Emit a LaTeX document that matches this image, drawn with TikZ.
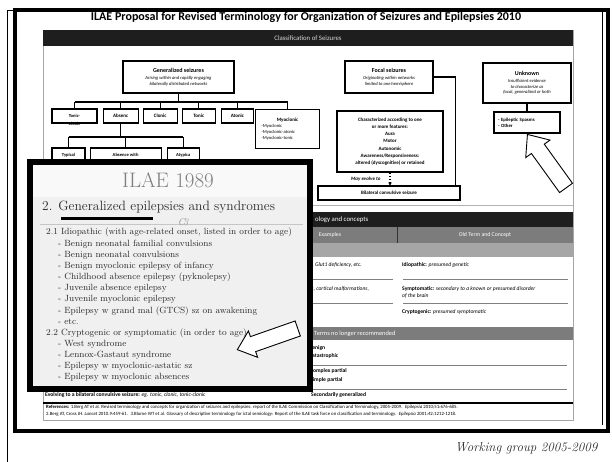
\documentclass[tikz,border=0pt]{standalone}
\usepackage{fontspec}
\setsansfont{Carlito}
\usetikzlibrary{arrows.meta,shapes.arrows,positioning}

\definecolor{bandgray}{HTML}{1E1E1E}
\definecolor{headgray}{HTML}{7C7C7C}
\definecolor{rowgray}{HTML}{A6A6A6}
\definecolor{paper}{HTML}{F0F0F0}
\definecolor{inkgray}{HTML}{2C2C2C}

\newcommand{\fsz}[2]{\fontsize{#1}{#2}\selectfont}

\begin{document}
\begin{tikzpicture}[x=1pt,y=-1pt,
  box/.style={draw,line width=1.1pt,fill=white,inner sep=1pt,align=center,
    font=\sffamily\fsz{5}{6}\bfseries},
  kid/.style={box,minimum height=14pt},
  tree/.style={line width=1.1pt},
  row text/.style={anchor=west,inner sep=0pt,font=\sffamily\fsz{5.6}{7}},
  band text/.style={inner sep=0pt,text=white,font=\sffamily\fsz{6.8}{8}},
  block arrow/.style={single arrow,draw,line width=0.9pt,fill=white,inner sep=0pt,
    single arrow head extend=7pt,single arrow tip angle=80}]

  \useasboundingbox (0,0) rectangle (612,462);
  \fill[white] (0,0) rectangle (612,462);

  % the 2010 slide
  \draw[gray!70,fill=white] (43,30) rectangle (573,420);
  \node[font=\sffamily\bfseries\fsz{12}{14}] (title) at (306,17)
    {ILAE Proposal for Revised Terminology for Organization of Seizures and Epilepsies 2010};
  \fill[bandgray] (43,30) rectangle (573,46);
  \node[band text,text=white!85!black] (classif) at (308,38) {Classification of Seizures};
  \draw[gray!60] (43,205) -- (573,205);

  \node[box,minimum width=111pt,minimum height=32pt,font=\sffamily\fsz{4.6}{5.8}\itshape] (gen) at (178.5,77)
    {{\fsz{6}{7}\bfseries\upshape Generalized seizures}\\[1pt]Arising within and rapidly engaging\\bilaterally distributed networks};

  \node[kid,minimum width=45pt,font=\sffamily\fsz{4.6}{5.6}\bfseries,
    label={[name=tclab,label distance=-5pt,font=\sffamily\fsz{4.6}{5.6}\bfseries]below:Clonic}] (tc) at (74.5,116) {Tonic-};
  \node[kid,minimum width=35pt,right=5pt of tc] (absenc) {Absenc};
  \node[kid,minimum width=34pt,right=4pt of absenc] (clonic) {Clonic};
  \node[kid,minimum width=33pt,right=4pt of clonic] (tonic) {Tonic};
  \node[kid,minimum width=32pt,right=5pt of tonic] (atonic) {Atonic};
  \node[box,anchor=north west,minimum width=64pt,minimum height=39pt,align=left,inner sep=4pt,
    font=\sffamily\fsz{4.6}{6.2}] (myo) at (255,109)
    {\makebox[52pt]{\bfseries\fsz{5}{6}Myoclonic}\\-Myoclonic\\-Myoclonic-atonic\\-Myoclonic-tonic};

  \node[kid,minimum width=33pt,font=\sffamily\fsz{4.6}{5.6}\bfseries] (typ) at (68.5,155) {Typical};
  \node[kid,minimum width=71pt,font=\sffamily\fsz{4.6}{5.6}\bfseries,right=4pt of typ] (abswith) {Absence with};
  \node[kid,minimum width=32pt,font=\sffamily\fsz{4.6}{5.6}\bfseries,right=5pt of abswith] (atyp) {Atypica};

  \coordinate (gbar) at (179,102);
  \coordinate (abar) at (120,137);
  \draw[tree] (gen.south) -- (gen.south |- gbar);
  \draw[tree] (gbar -| tc.north) -- (gbar -| myo.north);
  \foreach \k in {tc,absenc,clonic,tonic,atonic,myo}
    \draw[tree] (gbar -| \k.north) -- (\k.north);
  \draw[tree] (absenc.south) -- (absenc.south |- abar);
  \draw[tree] (abar -| typ.north) -- (abar -| atyp.north);
  \foreach \k in {typ,abswith,atyp}
    \draw[tree] (abar -| \k.north) -- (\k.north);

  \node[box,minimum width=88pt,minimum height=32pt,font=\sffamily\fsz{4.6}{5.8}\itshape] (focal) at (389,77)
    {{\fsz{6}{7}\bfseries\upshape Focal seizures}\\[1pt]Originating within networks\\limited to one hemisphere};
  \node[box,minimum width=106pt,minimum height=61pt,font=\sffamily\fsz{5}{7.2}\bfseries] (char) at (390,141.5)
    {Characterized according to one\\or more features:\\Aura\\Motor\\Autonomic\\Awareness/Responsiveness:\\altered (dyscognitive) or retained};
  \node[box,minimum width=142pt,minimum height=14pt] (bilat) at (389,193) {Bilateral convulsive seizure};
  \draw[tree] (focal.east) -| ([xshift=-5pt]bilat.north east);
  \draw[line width=1.2pt,dotted,-{Stealth[length=3pt,width=3.5pt]}] (char.south) -- (char.south |- bilat.north)
    node[midway,left=9pt,inner sep=0pt,font=\sffamily\fsz{5}{6}\bfseries\itshape] (evolve) {May evolve to};

  \node[box,minimum width=88pt,minimum height=40pt,font=\sffamily\fsz{4.6}{5.8}\itshape] (unk) at (527,83)
    {{\fsz{6}{7}\bfseries\upshape Unknown}\\[1pt]Insufficient evidence\\to characterize as\\focal, generalized or both};
  \node[box,minimum width=66pt,minimum height=21pt,align=left,text width=58pt,font=\sffamily\fsz{4.8}{6.2}\bfseries] (spasm) at (527,122.5)
    {- Epileptic Spasms\\- Other};
  \draw[tree] (unk) -- (spasm);

  % terminology table, right part
  \fill[bandgray] (43,212) rectangle (573,227);
  \node[band text,anchor=west] (concepts) at (315,219.5) {ology and concepts};
  \fill[headgray] (43,227) rectangle (573,243);
  \fill[rowgray] (43,243) rectangle (573,257);
  \draw[gray!40!black] (397,227) -- (397,243);
  \node[band text,font=\sffamily\fsz{5.8}{7}] (examples) at (330,235) {Examples};
  \node[band text,font=\sffamily\fsz{5.8}{7}] (oldterm) at (485,235) {Old Term and Concept};

  \node[row text,font=\sffamily\fsz{5.6}{7}\itshape] (glut) at (310,265) {s, Glut1 deficiency, etc.};
  \node[row text] (idio) at (402,265) {\textbf{Idiopathic:} \textit{presumed genetic}};
  \draw[gray] (313,279) -- (393,279) (403,279) -- (568,279);
  \node[row text,font=\sffamily\fsz{5.6}{7}\itshape] (cortical) at (310,289) {is, cortical malformations,};
  \node[row text,align=left,anchor=north west] (sympt) at (402,286)
    {\textbf{Symptomatic:} \textit{secondary to a known or presumed disorder}\\\textit{of the brain}};
  \draw[gray] (313,303) -- (393,303) (403,303) -- (568,303);
  \node[row text] (crypt) at (402,312) {\textbf{Cryptogenic:} \textit{presumed symptomatic}};

  \fill[headgray] (43,327) rectangle (573,340);
  \node[band text,anchor=west,font=\sffamily\fsz{6.4}{8}] (nolonger) at (314,333.5) {Terms no longer recommended};
  \node[row text,align=left,anchor=north west,font=\sffamily\fsz{5.6}{8}\bfseries] (benign) at (309,345) {Benign\\Catastrophic};
  \draw[gray] (313,365) -- (567,365);
  \node[row text,align=left,anchor=north west,font=\sffamily\fsz{5.6}{9.5}\bfseries] (partial) at (310,368) {Complex partial\\Simple partial};
  \draw[gray] (313,389) -- (567,389);
  \node[row text,font=\sffamily\fsz{5.6}{7}\bfseries] (secgen) at (311,395) {Secondarily generalized};
  \node[row text] (evolving) at (45,395)
    {\textbf{Evolving to a bilateral convulsive seizure:} \textit{eg. tonic, clonic, tonic-clonic}};
  \draw[line width=1.8pt] (43,403) -- (573,403);
  \node[row text,align=left,anchor=north west,font=\sffamily\fsz{4.8}{7}] (refs) at (46,405)
    {\textbf{References:} 1.Berg AT et al. Revised terminology and concepts for organization of seizures and epilepsies: report of the ILAE Commission on Classification and Terminology, 2005-2009. \ \textit{Epilepsia} 2010;51:676-685.\\
     2.Berg AT, Cross JH. \textit{Lancet} 2010.9:459-61. \ 3.Blume WT et al. Glossary of descriptive terminology for ictal semiology: Report of the ILAE task force on classification and terminology. \ \textit{Epilepsia} 2001:42:1212-1218.};

  \node[block arrow,minimum height=66pt,rotate=125.8] (arrowA) at (549.5,165) {\rule{0pt}{15pt}};

  % the 1989 card on top
  \draw[line width=6pt,fill=paper] (30,162) rectangle (310,389);
  \fill[white!60!paper] (33,165) rectangle (307,197);
  \node[font=\fsz{21}{24},text=gray] (ilae) at (168,180) {ILAE 1989};
  \node[anchor=west,inner sep=0pt,font=\fsz{13.5}{15},text=inkgray] (gen89) at (42,207)
    {2. Generalized epilepsies and syndromes};
  \draw[line width=3pt] (61,218) -- (153,218);
  \draw[gray!45,line width=0.5pt] (40,224) -- (303,224);
  \node[text=gray!80,font=\fsz{10}{12}\itshape] (orn) at (183,222) {C\kern-2pt3};
  \node[anchor=north west,inner sep=0pt,align=left,font=\fsz{9}{11.15},text=inkgray] (list89) at (46,228)
    {2.1 Idiopathic (with age-related onset, listed in order to age)\\
     \hspace*{12pt}- Benign neonatal familial convulsions\\
     \hspace*{12pt}- Benign neonatal convulsions\\
     \hspace*{12pt}- Benign myoclonic epilepsy of infancy\\
     \hspace*{12pt}- Childhood absence epilepsy (pyknolepsy)\\
     \hspace*{12pt}- Juvenile absence epilepsy\\
     \hspace*{12pt}- Juvenile myoclonic epilepsy\\
     \hspace*{12pt}- Epilepsy w grand mal (GTCS) sz on awakening\\
     \hspace*{12pt}- etc.\\
     2.2 Cryptogenic or symptomatic (in order to age)\\
     \hspace*{12pt}- West syndrome\\
     \hspace*{12pt}- Lennox-Gastaut syndrome\\
     \hspace*{12pt}- Epilepsy w myoclonic-astatic sz\\
     \hspace*{12pt}- Epilepsy w myoclonic absences};
  \node[block arrow,minimum height=64pt,single arrow head extend=6pt,rotate=199.3] (arrowB) at (272,337.5) {\rule{0pt}{15pt}};

  % frame of the page
  \draw[line width=4pt] (15,10) rectangle (608,431);
  \draw[line width=0.8pt] (7,10) -- (7,462) (7,10) -- (602,10) -- (602,425);
  \node[anchor=east,font=\fsz{13}{15}\itshape,text=inkgray] (wg) at (601,448) {Working group 2005-2009};
\end{tikzpicture}
\end{document}
